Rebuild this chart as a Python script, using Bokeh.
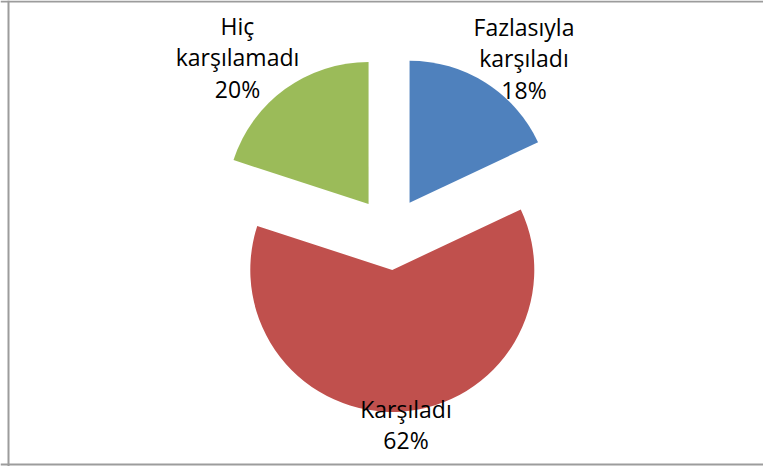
import math
from bokeh.plotting import figure
from bokeh.models import Range1d, Span, ColumnDataSource
from bokeh.embed import file_html
from bokeh.resources import INLINE
from bokeh.core.properties import value

# ---- data ----
categories = ["Fazlasıyla karşıladı", "Karşıladı", "Hiç karşılamadı"]
shares = [18, 62, 20]
colors = ["#4F81BD", "#C0504D", "#9BBB59"]
label_lines = [["Fazlasıyla", "karşıladı"], ["Karşıladı"], ["Hiç", "karşılamadı"]]

# ---- layout ----
W, H = 763, 466
CX, CY = 389.5, 233.0      # pie centre (plot units, y up)
R = 142.0
EXPLODE = 36.5
# label anchors: centre x, baseline of first line (plot units, y up)
label_anchor = [(523.5, 440.0), (405.5, 58.0), (237.0, 441.0)]
LINE_STEP = 31.5

p = figure(width=W, height=H, output_backend="svg", toolbar_location=None,
           x_range=Range1d(0, W), y_range=Range1d(0, H),
           x_axis_type=None, y_axis_type=None, min_border=0)
p.grid.visible = False
p.outline_line_color = None
p.background_fill_color = "white"
p.border_fill_color = "white"

total = float(sum(shares))
xs, ys, starts, ends = [], [], [], []
cum = 0.0
for v in shares:
    a0 = cum / total
    a1 = (cum + v) / total
    cum += v
    mid = math.pi / 2 - 2 * math.pi * (a0 + a1) / 2
    xs.append(CX + EXPLODE * math.cos(mid))
    ys.append(CY + EXPLODE * math.sin(mid))
    starts.append(math.pi / 2 - 2 * math.pi * a0)
    ends.append(math.pi / 2 - 2 * math.pi * a1)

src = ColumnDataSource(dict(x=xs, y=ys, start=starts, end=ends, color=colors, name=categories))
p.wedge(x="x", y="y", radius=R, start_angle="start", end_angle="end",
        direction="clock", fill_color="color", line_color=None, source=src)

tx, ty, tt = [], [], []
for i, v in enumerate(shares):
    lines = label_lines[i] + ["%d%%" % round(v / total * 100)]
    ax, ay = label_anchor[i]
    for j, t in enumerate(lines):
        tx.append(ax)
        ty.append(ay - j * LINE_STEP)
        tt.append(t)
p.text(x=tx, y=ty, text=tt, text_align="center", text_baseline="alphabetic",
       text_font=value("Open Sans"), text_font_size="23px", text_color="#000000")

# chart-area border (left, top, bottom)
p.add_layout(Span(location=8, dimension="height", line_color="#9c9c9c", line_width=2))
for loc in [2.0, H - 1.0]:
    p.add_layout(Span(location=loc, dimension="width", line_color="#9c9c9c", line_width=2))

open("out.html", "w").write(file_html(p, INLINE))
